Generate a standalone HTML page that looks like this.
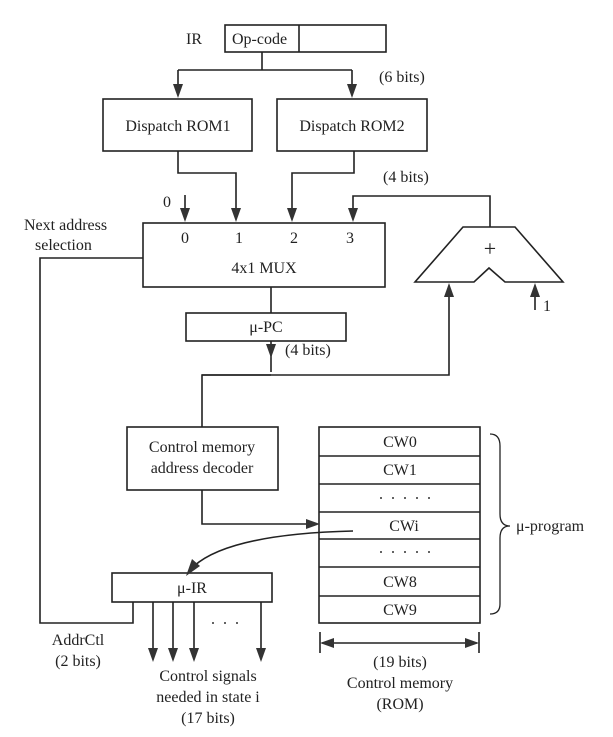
<!DOCTYPE html>
<html><head><style>
html,body{margin:0;padding:0;background:#fff;}
svg{display:block;}
svg text{font-family:"Liberation Serif","DejaVu Serif",serif;font-size:16px;fill:#222;}
</style></head><body>
<svg width="613" height="737" viewBox="0 0 613 737" xmlns="http://www.w3.org/2000/svg" font-family="Liberation Serif, DejaVu Serif, serif">
<g fill="none" stroke="#222" stroke-width="1.6">
<rect x="225" y="25" width="161" height="27"/>
<line x1="299" y1="25" x2="299" y2="52"/>
<polyline points="262,52 262,70"/>
<line x1="178" y1="70" x2="352" y2="70"/>
<line x1="178" y1="70" x2="178" y2="88"/>
<line x1="352" y1="70" x2="352" y2="88"/>
<rect x="103" y="99" width="149" height="52"/>
<rect x="277" y="99" width="150" height="52"/>
<polyline points="178,151 178,173 236,173 236,212"/>
<polyline points="354,151 354,173 292,173 292,212"/>
<line x1="185" y1="195" x2="185" y2="212"/>
<polyline points="490,227 490,196 353,196 353,212"/>
<rect x="143" y="223" width="242" height="64"/>
<polyline points="143,258 40,258 40,623 133,623 133,602"/>
<line x1="271" y1="287" x2="271" y2="313"/>
<rect x="186" y="313" width="160" height="28"/>
<line x1="271" y1="341" x2="271" y2="372"/>
<path d="M463,227 L515,227 L563,282 L505,282 L489,268 L474,282 L415,282 Z"/>
<polyline points="271,375 202,375 202,427"/>
<polyline points="202,375 449,375 449,290"/>
<line x1="535" y1="310" x2="535" y2="290"/>
<rect x="127" y="427" width="151" height="63"/>
<polyline points="202,490 202,524 310,524"/>
<rect x="319" y="427" width="161" height="196"/>
<line x1="319" y1="456" x2="480" y2="456"/>
<line x1="319" y1="484" x2="480" y2="484"/>
<line x1="319" y1="512" x2="480" y2="512"/>
<line x1="319" y1="539" x2="480" y2="539"/>
<line x1="319" y1="567" x2="480" y2="567"/>
<line x1="319" y1="596" x2="480" y2="596"/>
<path d="M490,434 Q500,434 500,446 L500,514 Q500,526 510,526 Q500,526 500,538 L500,604 Q500,614 490,614" stroke-width="1.3"/>
<path d="M353,531 Q230,534 194,566"/>
<rect x="112" y="573" width="160" height="29"/>
<line x1="153" y1="602" x2="153" y2="650"/>
<line x1="173" y1="602" x2="173" y2="650"/>
<line x1="194" y1="602" x2="194" y2="650"/>
<line x1="261" y1="602" x2="261" y2="650"/>
<line x1="320" y1="632" x2="320" y2="653"/>
<line x1="479" y1="632" x2="479" y2="653"/>
<line x1="322" y1="643" x2="477" y2="643"/>
</g>
<g fill="#333">
<path d="M173,84 L183,84 L178,98 Z"/>
<path d="M347,84 L357,84 L352,98 Z"/>
<path d="M231,208 L241,208 L236,222 Z"/>
<path d="M287,208 L297,208 L292,222 Z"/>
<path d="M180,208 L190,208 L185,222 Z"/>
<path d="M348,208 L358,208 L353,222 Z"/>
<path d="M266,344 L276,344 L271,358 Z"/>
<path d="M444,297 L454,297 L449,283 Z"/>
<path d="M530,297 L540,297 L535,283 Z"/>
<path d="M306,519 L306,529 L320,524 Z"/>
<path d="M186,576 L192,559 L200,566 Z"/>
<path d="M148,648 L158,648 L153,662 Z"/>
<path d="M168,648 L178,648 L173,662 Z"/>
<path d="M189,648 L199,648 L194,662 Z"/>
<path d="M256,648 L266,648 L261,662 Z"/>
<path d="M320,643 L334,638 L334,648 Z"/>
<path d="M479,643 L465,638 L465,648 Z"/>
<circle cx="213" cy="623" r="1"/><circle cx="225" cy="623" r="1"/><circle cx="237" cy="623" r="1"/>
<circle cx="381" cy="498" r="1"/><circle cx="393" cy="498" r="1"/><circle cx="405" cy="498" r="1"/><circle cx="417" cy="498" r="1"/><circle cx="429" cy="498" r="1"/>
<circle cx="381" cy="552" r="1"/><circle cx="393" cy="552" r="1"/><circle cx="405" cy="552" r="1"/><circle cx="417" cy="552" r="1"/><circle cx="429" cy="552" r="1"/>
</g>
<text x="186" y="44">IR</text>
<text x="232" y="44">Op-code</text>
<text x="379" y="82">(6 bits)</text>
<text x="178" y="131" text-anchor="middle">Dispatch ROM1</text>
<text x="352" y="131" text-anchor="middle">Dispatch ROM2</text>
<text x="383" y="182">(4 bits)</text>
<text x="163" y="207">0</text>
<text x="24" y="230">Next address</text>
<text x="35" y="250">selection</text>
<text x="185" y="243" text-anchor="middle">0</text>
<text x="239" y="243" text-anchor="middle">1</text>
<text x="294" y="243" text-anchor="middle">2</text>
<text x="350" y="243" text-anchor="middle">3</text>
<text x="264" y="273" text-anchor="middle">4x1 MUX</text>
<text x="490" y="256" text-anchor="middle" style="font-size:22px">+</text>
<text x="543" y="311">1</text>
<text x="266" y="332" text-anchor="middle">μ-PC</text>
<text x="285" y="355">(4 bits)</text>
<text x="202" y="452" text-anchor="middle">Control memory</text>
<text x="202" y="473" text-anchor="middle">address decoder</text>
<text x="400" y="447" text-anchor="middle">CW0</text>
<text x="400" y="475" text-anchor="middle">CW1</text>
<text x="404" y="531" text-anchor="middle">CWi</text>
<text x="400" y="587" text-anchor="middle">CW8</text>
<text x="400" y="615" text-anchor="middle">CW9</text>
<text x="516" y="531">μ-program</text>
<text x="192" y="593" text-anchor="middle">μ-IR</text>
<text x="78" y="645" text-anchor="middle">AddrCtl</text>
<text x="78" y="666" text-anchor="middle">(2 bits)</text>
<text x="208" y="681" text-anchor="middle">Control signals</text>
<text x="208" y="702" text-anchor="middle">needed in state i</text>
<text x="208" y="723" text-anchor="middle">(17 bits)</text>
<text x="400" y="667" text-anchor="middle">(19 bits)</text>
<text x="400" y="688" text-anchor="middle">Control memory</text>
<text x="400" y="709" text-anchor="middle">(ROM)</text>
</svg>
</body></html>
